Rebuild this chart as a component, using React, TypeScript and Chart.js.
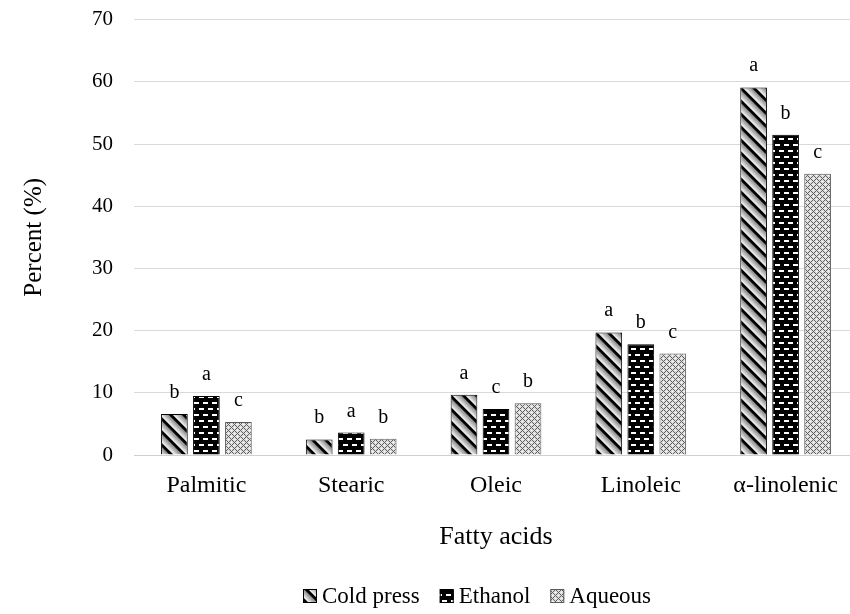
import React, { useEffect, useRef } from 'react';
import { Chart, registerables } from 'chart.js';

Chart.register(...registerables);

const SERIF = '"Liberation Serif", "Times New Roman", serif';

const categories = ['Palmitic', 'Stearic', 'Oleic', 'Linoleic', 'α-linolenic'];
const seriesNames = ['Cold press', 'Ethanol', 'Aqueous'];
const coldPress = [6.6, 2.5, 9.7, 19.7, 59.1];
const ethanol = [9.5, 3.6, 7.4, 17.8, 51.5];
const aqueous = [5.3, 2.6, 8.3, 16.3, 45.2];
const coldPressLetters = ['b', 'b', 'a', 'a', 'a'];
const ethanolLetters = ['a', 'a', 'c', 'b', 'b'];
const aqueousLetters = ['c', 'b', 'b', 'c', 'c'];
const yMax = 70;
const yStep = 10;

// The canvas is a little larger than the visible frame; the frame clips it.
const VIEW_W = 850;
const VIEW_H = 614;
const CANVAS_W = 880;
const SHIFT_Y = 14;
const CANVAS_H = VIEW_H + SHIFT_Y;
const PLOT_BOTTOM = 455 + SHIFT_Y;

// Build a repeating tile pixel by pixel from a grey-level function.
function greyTile(w: number, h: number, level: (x: number, y: number) => number): HTMLCanvasElement {
  const c = document.createElement('canvas');
  c.width = w;
  c.height = h;
  const g = c.getContext('2d')!;
  const img = g.createImageData(w, h);
  for (let y = 0; y < h; y++) {
    for (let x = 0; x < w; x++) {
      const v = Math.max(0, Math.min(255, Math.round(level(x, y))));
      const k = (y * w + x) * 4;
      img.data[k] = v;
      img.data[k + 1] = v;
      img.data[k + 2] = v;
      img.data[k + 3] = 255;
    }
  }
  g.putImageData(img, 0, 0);
  return c;
}

// Diagonal black stripes with a white-to-grey shading between them.
function stripeTile(): HTMLCanvasElement {
  const P = 13;
  const S = 4; // supersampling for softer edges
  return greyTile(P, P, (x, y) => {
    let sum = 0;
    for (let sy = 0; sy < S; sy++) {
      for (let sx = 0; sx < S; sx++) {
        const px = x + (sx + 0.5) / S;
        const py = y + (sy + 0.5) / S;
        const u = (((px - py) % P) + P) % P / P;
        if (u < 0.3) sum += 0;
        else {
          const t = (u - 0.3) / 0.7;
          sum += 250 - t * 120;
        }
      }
    }
    return sum / (S * S);
  });
}

// Black field with staggered white dashes.
function brickTile(): HTMLCanvasElement {
  const c = document.createElement('canvas');
  c.width = 9;
  c.height = 12;
  const g = c.getContext('2d')!;
  g.fillStyle = '#000';
  g.fillRect(0, 0, 9, 12);
  g.fillStyle = '#fff';
  g.fillRect(1, 2, 5, 2);
  g.fillRect(5, 8, 4, 2);
  g.fillRect(0, 8, 1, 2);
  return c;
}

// Fine grey diamond lattice.
function latticeTile(): HTMLCanvasElement {
  return greyTile(6, 6, (x, y) => {
    const d1 = (x + y) % 6;
    const d2 = (x - y + 6) % 6;
    if (d1 === 0 || d2 === 0) return 95;
    if (d1 === 3 && d2 === 3) return 255;
    return 222;
  });
}

const letterSets = [coldPressLetters, ethanolLetters, aqueousLetters];

const letterPlugin = {
  id: 'sigLetters',
  afterDatasetsDraw(chart: any) {
    const ctx = chart.ctx as CanvasRenderingContext2D;
    ctx.save();
    ctx.font = `20px ${SERIF}`;
    ctx.fillStyle = '#000';
    ctx.textAlign = 'center';
    ctx.textBaseline = 'alphabetic';
    chart.data.datasets.forEach((_ds: any, i: number) => {
      const meta = chart.getDatasetMeta(i);
      meta.data.forEach((el: any, j: number) => {
        const p = el.getProps(['x', 'y'], true);
        ctx.fillText(letterSets[i][j], p.x, p.y - 16);
      });
    });
    ctx.restore();
  },
};

const legendPlugin = {
  id: 'bottomLegend',
  afterDraw(chart: any) {
    const ctx = chart.ctx as CanvasRenderingContext2D;
    const box = 14;
    const yc = 596 + SHIFT_Y;
    let x = 303;
    ctx.save();
    ctx.font = `23px ${SERIF}`;
    ctx.textBaseline = 'middle';
    ctx.textAlign = 'left';
    chart.data.datasets.forEach((ds: any) => {
      ctx.fillStyle = ds.backgroundColor;
      ctx.fillRect(x, yc - box / 2, box, box);
      ctx.strokeStyle = ds.borderColor;
      ctx.lineWidth = 1;
      ctx.strokeRect(x + 0.5, yc - box / 2 + 0.5, box - 1, box - 1);
      ctx.fillStyle = '#000';
      ctx.fillText(ds.label, x + box + 5, yc + 1);
      x += box + 5 + ctx.measureText(ds.label).width + 20;
    });
    ctx.restore();
  },
};

export default function App() {
  const canvasRef = useRef<HTMLCanvasElement | null>(null);

  useEffect(() => {
    document.body.style.margin = '0';
    const canvas = canvasRef.current!;
    const ctx = canvas.getContext('2d')!;
    const stripes = ctx.createPattern(stripeTile(), 'repeat');
    const bricks = ctx.createPattern(brickTile(), 'repeat');
    const lattice = ctx.createPattern(latticeTile(), 'repeat');

    const chart = new Chart(canvas, {
      type: 'bar',
      data: {
        labels: categories,
        datasets: [
          { label: seriesNames[0], data: coldPress, backgroundColor: stripes as any, borderColor: '#000', borderWidth: 1 },
          { label: seriesNames[1], data: ethanol, backgroundColor: bricks as any, borderColor: '#000', borderWidth: 1 },
          { label: seriesNames[2], data: aqueous, backgroundColor: lattice as any, borderColor: '#5a5a5a', borderWidth: 1 },
        ],
      },
      options: {
        responsive: false,
        animation: false,
        events: [],
        layout: { padding: { left: 0, right: CANVAS_W - 858, top: 5, bottom: 0 } },
        datasets: { bar: { categoryPercentage: 0.663, barPercentage: 0.834 } },
        plugins: { legend: { display: false }, tooltip: { enabled: false } },
        scales: {
          x: {
            grid: { display: false, drawTicks: false },
            border: { display: true, color: '#d0d0d0', width: 1 },
            ticks: { color: '#000', padding: 16, font: { family: SERIF, size: 24 } },
            title: {
              display: true,
              text: 'Fatty acids',
              color: '#000',
              font: { family: SERIF, size: 26 },
              padding: { top: 0, bottom: 61 },
            },
            afterFit: (scale: any) => {
              scale.height = CANVAS_H - PLOT_BOTTOM;
            },
          },
          y: {
            min: 0,
            max: yMax,
            grid: { color: '#d9d9d9', lineWidth: 1, drawTicks: false },
            border: { display: false },
            ticks: { stepSize: yStep, color: '#000', padding: 21, font: { family: SERIF, size: 21 } },
            title: {
              display: true,
              text: 'Percent (%)',
              color: '#000',
              font: { family: SERIF, size: 25 },
              padding: { top: 19, bottom: 0 },
            },
            afterFit: (scale: any) => {
              scale.width = 134;
            },
          },
        },
      },
      plugins: [letterPlugin, legendPlugin],
    });
    return () => chart.destroy();
  }, []);

  return (
    <div style={{ position: 'absolute', left: 0, top: 0, width: VIEW_W, height: VIEW_H, overflow: 'hidden', background: '#fff' }}>
      <canvas
        ref={canvasRef}
        width={CANVAS_W}
        height={CANVAS_H}
        style={{ display: 'block', position: 'absolute', left: 0, top: -SHIFT_Y }}
      />
    </div>
  );
}
